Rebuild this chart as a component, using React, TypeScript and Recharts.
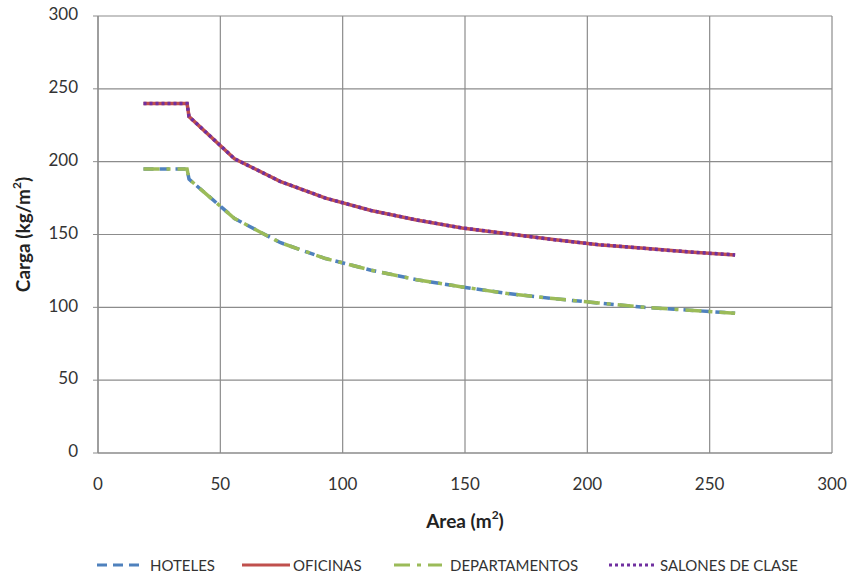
import React from "react";
import { LineChart, Line, XAxis, YAxis, CartesianGrid, Label } from "recharts";

const areas = [18.6, 36.4, 37.2, 55.8, 74.4, 93, 111.6, 130.2, 148.8, 167.4, 186, 204.6, 223.2, 241.8, 260.4];
const hoteles = [195, 195, 188, 161, 144.5, 133.5, 125.5, 119, 114, 109.5, 106, 103, 100, 98, 96];
const oficinas = [240, 240, 231, 202, 186.5, 175, 166.5, 160, 154.5, 150.5, 146.5, 143, 140.5, 138, 136];
const departamentos = [195, 195, 188, 161, 144.5, 133.5, 125.5, 119, 114, 109.5, 106, 103, 100, 98, 96];
const salones = [240, 240, 231, 202, 186.5, 175, 166.5, 160, 154.5, 150.5, 146.5, 143, 140.5, 138, 136];
const axisTicks = [0, 50, 100, 150, 200, 250, 300];

const data = areas.map((a, i) => ({
  area: a,
  hoteles: hoteles[i],
  oficinas: oficinas[i],
  departamentos: departamentos[i],
  salones: salones[i],
}));

const FONT = "Lato, 'Open Sans', sans-serif";
const GRID = "#8c8c8c";

const series = [
  { key: "hoteles", name: "HOTELES", color: "#4f81bd", dash: "10 6", left: 97, textLeft: 150 },
  { key: "oficinas", name: "OFICINAS", color: "#c0504d", dash: undefined, left: 242, textLeft: 293 },
  { key: "departamentos", name: "DEPARTAMENTOS", color: "#9bbb59", dash: "16 7 4 7", left: 394, textLeft: 450 },
  { key: "salones", name: "SALONES DE CLASE", color: "#7030a0", dash: "3 3", left: 609, textLeft: 660 },
];

const XTick = (props: any) => {
  const { x, y, payload } = props;
  return (
    <text x={x} y={y + 33} textAnchor="middle" dominantBaseline="middle" fontFamily={FONT} fontSize={17} fill="#333">
      {payload.value}
    </text>
  );
};

const YTick = (props: any) => {
  const { x, y, payload } = props;
  return (
    <text x={x - 15} y={y} textAnchor="end" dominantBaseline="middle" fontFamily={FONT} fontSize={17} fill="#333">
      {payload.value}
    </text>
  );
};

export default function App() {
  return (
    <div style={{ position: "absolute", left: 0, top: 0, width: 849, height: 577, background: "#fff" }}>
      <LineChart width={849} height={577} data={data} margin={{ top: 16, right: 17, left: 0, bottom: 0 }}>
        <CartesianGrid stroke={GRID} strokeWidth={1.2} />
        <XAxis
          dataKey="area"
          type="number"
          domain={[0, 300]}
          ticks={axisTicks}
          height={124}
          tickSize={0}
          tickMargin={0}
          tickLine={false}
          axisLine={{ stroke: GRID, strokeWidth: 1.2 }}
          tick={<XTick />}
          interval={0}
        >
          <Label
            content={({ viewBox }: any) => (
              <text
                x={viewBox.x + viewBox.width / 2}
                y={viewBox.y + 70}
                textAnchor="middle"
                dominantBaseline="middle"
                fontFamily={FONT}
                fontSize={19}
                fontWeight="bold"
                fill="#222"
              >
                Area (m
                <tspan dy={-7} fontSize={12}>2</tspan>
                <tspan dy={7}>)</tspan>
              </text>
            )}
          />
        </XAxis>
        <YAxis
          type="number"
          domain={[0, 300]}
          ticks={axisTicks}
          width={98}
          tickSize={5}
          tickMargin={0}
          tickLine={{ stroke: GRID }}
          axisLine={{ stroke: GRID, strokeWidth: 1.2 }}
          tick={<YTick />}
          interval={0}
        >
          <Label
            content={({ viewBox }: any) => {
              const cx = 25;
              const cy = viewBox.y + viewBox.height / 2;
              return (
                <text
                  x={cx}
                  y={cy}
                  transform={`rotate(-90 ${cx} ${cy})`}
                  textAnchor="middle"
                  dominantBaseline="middle"
                  fontFamily={FONT}
                  fontSize={19}
                  fontWeight="bold"
                  fill="#222"
                >
                  Carga (kg/m
                  <tspan dy={-7} fontSize={12}>2</tspan>
                  <tspan dy={7}>)</tspan>
                </text>
              );
            }}
          />
        </YAxis>
        {series.map((s) => (
          <Line
            key={s.key}
            dataKey={s.key}
            name={s.name}
            type="linear"
            stroke={s.color}
            strokeWidth={3.5}
            strokeDasharray={s.dash}
            dot={false}
            activeDot={false}
            isAnimationActive={false}
          />
        ))}
      </LineChart>
      {series.map((s) => (
        <div key={s.key}>
          <svg style={{ position: "absolute", left: s.left, top: 560 }} width={50} height={10}>
            <line x1={0} y1={5} x2={48} y2={5} stroke={s.color} strokeWidth={3} strokeDasharray={s.dash} />
          </svg>
          <div
            style={{
              position: "absolute",
              left: s.textLeft,
              top: 555,
              lineHeight: "20px",
              fontFamily: FONT,
              fontSize: 15,
              color: "#333",
              whiteSpace: "nowrap",
            }}
          >
            {s.name}
          </div>
        </div>
      ))}
    </div>
  );
}
